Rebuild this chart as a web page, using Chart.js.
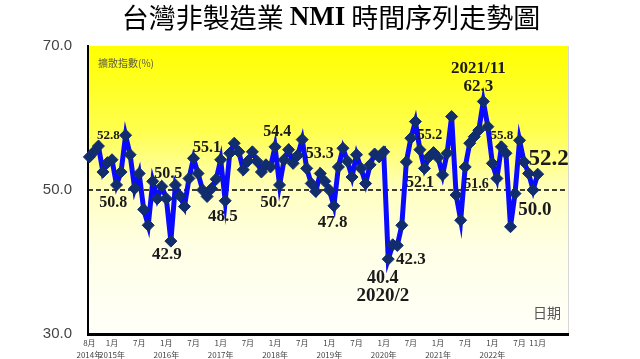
<!DOCTYPE html>
<html>
<head>
<meta charset="utf-8">
<script src="https://cdn.jsdelivr.net/npm/chart.js@4.4.0/dist/chart.umd.min.js"></script>
<style>
  html, body { margin: 0; padding: 0; background: #fff; }
  #wrap { width: 640px; height: 359px; }
</style>
</head>
<body>
<div id="wrap"><canvas id="nmiChart" width="640" height="359"></canvas></div>
<script>
// 2014/8 ~ 2022/11 monthly NMI
const nmi = [
  54.6, 55.3, 56.1, 52.5, 53.8, 54.2, 50.7, 52.5, 57.6, 54.9,
  50.2, 52.3, 47.3, 45.1, 51.2, 48.8, 50.5, 48.8, 42.9, 50.7,
  49.2, 47.7, 51.6, 54.4, 52.3, 50.0, 49.1, 50.2, 51.5, 54.2,
  48.5, 55.1, 56.5, 55.3, 52.8, 54.0, 55.3, 54.0, 52.5, 53.5,
  53.2, 56.0, 50.7, 54.2, 55.6, 53.7, 54.8, 57.0, 53.0, 50.9,
  49.8, 52.3, 51.2, 50.0, 47.8, 53.2, 55.8, 54.0, 51.8, 54.9,
  53.0, 50.9, 53.5, 55.0, 54.6, 55.3, 40.4, 42.4, 42.3, 45.1,
  53.9, 57.2, 59.5, 55.6, 53.0, 54.6, 55.2, 54.5, 52.1, 55.1,
  60.2, 49.3, 45.8, 53.2, 56.5, 57.4, 58.3, 62.3, 58.8, 53.7,
  51.6, 56.0, 55.1, 44.9, 49.5, 56.9, 53.9, 52.3, 50.0, 52.2
];
const tickIdx = [0, 5, 11, 17, 23, 29, 35, 41, 47, 53, 59, 65, 71, 77, 83, 89, 95, 99];
const tickMonths = ['8月', '1月', '7月', '1月', '7月', '1月', '7月', '1月', '7月', '1月', '7月', '1月', '7月', '1月', '7月', '1月', '7月', '11月'];
const tickYears = ['2014年', '2015年', '', '2016年', '', '2017年', '', '2018年', '', '2019年', '', '2020年', '', '2021年', '', '2022年', '', ''];
const yTicks = [30, 50, 70];

// value notes, anchored in data units (month index, value)
const notes = [
  { t: '52.8', i: 4.2, v: 57.5, s: 13 },
  { t: '50.8', i: 5.3, v: 48.2, s: 16 },
  { t: '50.5', i: 17.4, v: 52.3, s: 16 },
  { t: '42.9', i: 17.1, v: 41.0, s: 17 },
  { t: '55.1', i: 26.0, v: 55.8, s: 16 },
  { t: '48.5', i: 29.5, v: 46.3, s: 17 },
  { t: '54.4', i: 41.5, v: 58.1, s: 16 },
  { t: '50.7', i: 41.0, v: 48.2, s: 17 },
  { t: '53.3', i: 50.9, v: 55.0, s: 16 },
  { t: '47.8', i: 53.7, v: 45.5, s: 17 },
  { t: '40.4', i: 64.8, v: 37.7, s: 18 },
  { t: '2020/2', i: 64.8, v: 35.2, s: 19 },
  { t: '42.3', i: 71.0, v: 40.4, s: 17 },
  { t: '52.1', i: 73.0, v: 51.0, s: 16 },
  { t: '55.2', i: 75.2, v: 57.6, s: 14 },
  { t: '2021/11', i: 85.9, v: 66.8, s: 17 },
  { t: '62.3', i: 85.9, v: 64.3, s: 17 },
  { t: '51.6', i: 85.5, v: 50.8, s: 14 },
  { t: '55.8', i: 91.1, v: 57.6, s: 13 },
  { t: '50.0', i: 98.4, v: 47.2, s: 19 },
  { t: '52.2', i: 101.4, v: 54.3, s: 23 }
];

const ctx = document.getElementById('nmiChart').getContext('2d');

const bgPlugin = {
  id: 'bg',
  beforeDraw(chart) {
    const { ctx, chartArea: a } = chart;
    const g = ctx.createLinearGradient(0, a.top, 0, a.bottom);
    g.addColorStop(0, '#ffff00');
    g.addColorStop(0.3, '#ffff50');
    g.addColorStop(0.5, '#ffffc0');
    g.addColorStop(0.7, '#ffffe6');
    g.addColorStop(1, '#fffffa');
    ctx.save();
    ctx.fillStyle = g;
    ctx.fillRect(a.left, a.top, a.right - a.left, a.bottom - a.top);
    ctx.strokeStyle = '#d8d8d8';
    ctx.lineWidth = 1;
    ctx.beginPath();
    ctx.moveTo(a.right + 0.5, a.top);
    ctx.lineTo(a.right + 0.5, a.bottom);
    ctx.stroke();

    // title, mixed fonts
    const parts = [
      ['台灣非製造業 ', '27px "Noto Sans CJK TC"'],
      ['NMI', 'bold 27px "Liberation Serif"'],
      [' 時間序列走勢圖', '27px "Noto Sans CJK TC"']
    ];
    let w = 0;
    parts.forEach(p => { ctx.font = p[1]; w += ctx.measureText(p[0]).width; });
    let x = 331 - w / 2;
    ctx.fillStyle = '#000';
    ctx.textBaseline = 'middle';
    parts.forEach(p => {
      ctx.font = p[1];
      ctx.fillText(p[0], x, 18);
      x += ctx.measureText(p[0]).width;
    });
    ctx.restore();
  },
  beforeDatasetsDraw(chart) {
    const { ctx, chartArea: a } = chart;
    const y = chart.scales.y.getPixelForValue(50);
    ctx.save();
    ctx.strokeStyle = '#000';
    ctx.lineWidth = 1.5;
    ctx.setLineDash([5, 3]);
    ctx.beginPath();
    ctx.moveTo(a.left, y);
    ctx.lineTo(a.right, y);
    ctx.stroke();
    ctx.restore();

    ctx.save();
    ctx.font = '10px "Noto Sans CJK TC"';
    ctx.fillStyle = '#5a5a40';
    ctx.textBaseline = 'middle';
    ctx.fillText('擴散指數(%)', a.left + 10, a.top + 17);
    ctx.font = '14px "Noto Sans CJK TC"';
    ctx.fillStyle = '#555';
    ctx.textAlign = 'center';
    ctx.fillText('日期', a.right - 21, a.bottom - 21);
    ctx.restore();
  }
};

const notesPlugin = {
  id: 'notes',
  afterDatasetsDraw(chart) {
    const { ctx, scales } = chart;
    ctx.save();
    ctx.fillStyle = '#1a1a1a';
    ctx.textAlign = 'center';
    ctx.textBaseline = 'middle';
    notes.forEach(n => {
      ctx.font = 'bold ' + n.s + 'px "Liberation Serif"';
      ctx.fillText(n.t, scales.x.getPixelForValue(n.i), scales.y.getPixelForValue(n.v));
    });
    ctx.restore();
  }
};

new Chart(ctx, {
  type: 'line',
  data: {
    datasets: [{
      data: nmi.map((v, i) => ({ x: i, y: v })),
      borderColor: '#0a0aff',
      borderWidth: 5,
      pointStyle: 'rectRot',
      pointRadius: 6,
      pointBackgroundColor: '#112d6e',
      pointBorderColor: '#112d6e',
      pointBorderWidth: 1,
      tension: 0,
      clip: false
    }]
  },
  options: {
    responsive: false,
    animation: false,
    layout: { padding: { top: 46, right: 72, left: 0, bottom: 0 } },
    plugins: {
      legend: { display: false },
      tooltip: { enabled: false }
    },
    scales: {
      x: {
        type: 'linear',
        min: -0.3,
        max: 105.7,
        afterBuildTicks: s => { s.ticks = tickIdx.map(v => ({ value: v })); },
        afterFit: s => { s.height = 25; },
        ticks: {
          autoSkip: false,
          maxRotation: 0,
          minRotation: 0,
          padding: 3,
          color: '#444',
          font: { size: 8, family: '"Noto Sans CJK TC"', lineHeight: 1.5 },
          callback: v => {
            const k = tickIdx.indexOf(v);
            return [tickMonths[k], tickYears[k]];
          }
        },
        grid: { display: false, drawTicks: false },
        border: { color: '#000', width: 3 }
      },
      y: {
        min: 30,
        max: 70,
        afterBuildTicks: s => { s.ticks = yTicks.map(v => ({ value: v })); },
        afterFit: s => { s.width = 88; },
        ticks: {
          padding: 16,
          color: '#444',
          font: { size: 15, family: '"Liberation Sans"' },
          callback: v => v.toFixed(1)
        },
        grid: { display: false, drawTicks: false },
        border: { color: '#000', width: 2 }
      }
    }
  },
  plugins: [bgPlugin, notesPlugin]
});
</script>
</body>
</html>
